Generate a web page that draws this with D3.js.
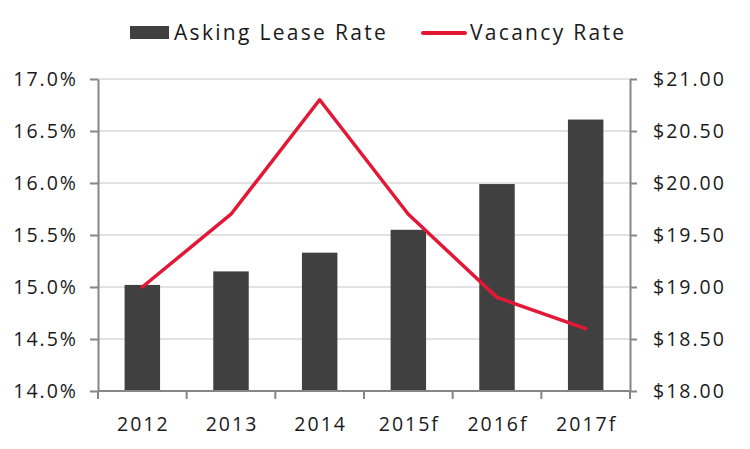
<!DOCTYPE html>
<html>
<head>
<meta charset="utf-8">
<script src="https://cdn.jsdelivr.net/npm/d3@7"></script>
<style>
  body { margin: 0; background: #fff; }
  svg { display: block; }
  text { font-family: "Open Sans", Lato, sans-serif; font-weight: 400; fill: #1a1a1a; }
</style>
</head>
<body>
<svg id="chart" width="750" height="449"></svg>
<script>
const categories = ["2012", "2013", "2014", "2015f", "2016f", "2017f"];
const askingLeaseRate = [19.02, 19.15, 19.33, 19.55, 19.99, 20.61];
const vacancyRate = [15.0, 15.7, 16.8, 15.7, 14.9, 14.6];
const leftTicks = [14.0, 14.5, 15.0, 15.5, 16.0, 16.5, 17.0];
const rightTicks = [18.0, 18.5, 19.0, 19.5, 20.0, 20.5, 21.0];

const svg = d3.select("#chart");
const margin = { left: 98, right: 120, top: 79, bottom: 58 };
const W = 750, H = 449;
const x0 = margin.left, x1 = W - margin.right, y0 = H - margin.bottom, y1 = margin.top;

const xBand = d3.scaleBand().domain(categories).range([x0, x1]);
const yL = d3.scaleLinear().domain([14, 17]).range([y0, y1]);
const yR = d3.scaleLinear().domain([18, 21]).range([y0, y1]);

const axisColor = "#868686";
const tickFont = "19.5px";
const tickSpacing = "2px";

// gridlines
svg.append("g").selectAll("line").data(leftTicks.slice(1)).join("line")
  .attr("x1", x0).attr("x2", x1)
  .attr("y1", d => yL(d)).attr("y2", d => yL(d))
  .attr("stroke", "#d9d9d9").attr("stroke-width", 1.5);

// bars
svg.append("g").selectAll("rect").data(categories).join("rect")
  .attr("x", d => xBand(d) + xBand.bandwidth() * 0.3)
  .attr("width", xBand.bandwidth() * 0.4)
  .attr("y", (d, i) => yR(askingLeaseRate[i]))
  .attr("height", (d, i) => y0 - yR(askingLeaseRate[i]))
  .attr("fill", "#404040");

// line
const line = d3.line()
  .x((d, i) => xBand(categories[i]) + xBand.bandwidth() / 2)
  .y(d => yL(d));
svg.append("path").datum(vacancyRate)
  .attr("d", line)
  .attr("fill", "none")
  .attr("stroke", "#e31837")
  .attr("stroke-width", 3.5)
  .attr("stroke-linejoin", "round")
  .attr("stroke-linecap", "round");

function styleAxis(g) {
  g.select(".domain").attr("stroke", axisColor).attr("stroke-width", 2);
  g.selectAll(".tick line").attr("stroke", axisColor).attr("stroke-width", 2);
  g.selectAll(".tick text").attr("fill", "#1a1a1a").style("font-size", tickFont)
    .style("font-family", "'Open Sans', Lato, sans-serif").style("font-weight", 400)
    .style("letter-spacing", tickSpacing);
}

// left axis
svg.append("g").attr("transform", `translate(${x0},0)`)
  .call(d3.axisLeft(yL).tickValues(leftTicks).tickFormat(d => d.toFixed(1) + "%").tickSize(8).tickSizeOuter(0).tickPadding(12))
  .call(styleAxis);

// right axis
svg.append("g").attr("transform", `translate(${x1},0)`)
  .call(d3.axisRight(yR).tickValues(rightTicks).tickFormat(d => "$" + d.toFixed(2)).tickSize(7).tickSizeOuter(0).tickPadding(16))
  .call(styleAxis);

// bottom axis with ticks at band edges
const bottom = svg.append("g").attr("transform", `translate(0,${y0})`);
bottom.append("line").attr("x1", x0).attr("x2", x1).attr("stroke", axisColor).attr("stroke-width", 2);
const edges = categories.map(c => xBand(c)).concat([x1]);
bottom.selectAll("line.t").data(edges).join("line").attr("class", "t")
  .attr("x1", d => d).attr("x2", d => d).attr("y1", 0).attr("y2", 8)
  .attr("stroke", axisColor).attr("stroke-width", 2);
bottom.selectAll("text").data(categories).join("text")
  .attr("x", d => xBand(d) + xBand.bandwidth() / 2 + 1)
  .attr("y", 40)
  .attr("text-anchor", "middle")
  .style("font-size", tickFont)
  .style("letter-spacing", tickSpacing)
  .text(d => d);

// legend
const leg = svg.append("g");
leg.append("rect").attr("x", 130).attr("y", 26).attr("width", 39).attr("height", 13).attr("fill", "#404040");
leg.append("text").attr("x", 174).attr("y", 40).style("font-size", "21px").style("letter-spacing", "2.3px").text("Asking Lease Rate");
leg.append("line").attr("x1", 423).attr("x2", 465).attr("y1", 33).attr("y2", 33)
  .attr("stroke", "#e31837").attr("stroke-width", 4).attr("stroke-linecap", "round");
leg.append("text").attr("x", 470).attr("y", 40).style("font-size", "21px").style("letter-spacing", "2.3px").text("Vacancy Rate");
</script>
</body>
</html>
